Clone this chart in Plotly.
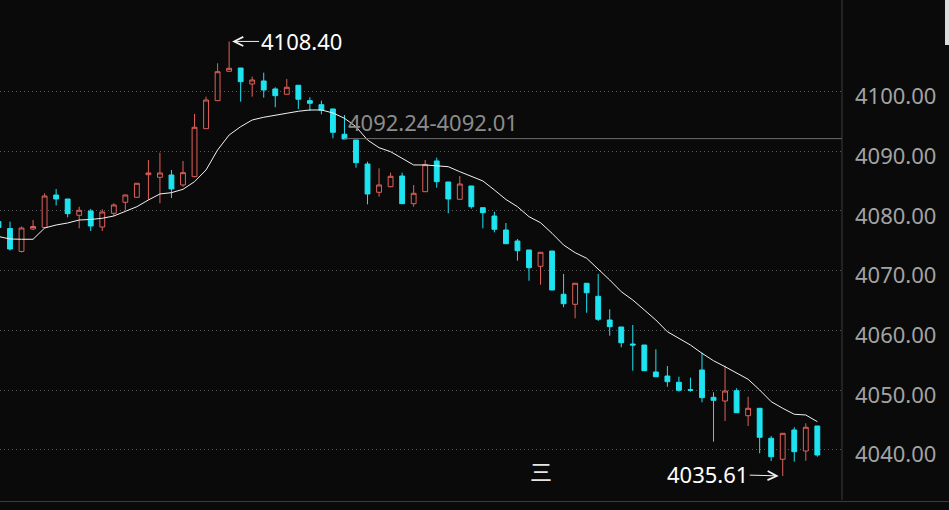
import plotly.graph_objects as go

# ---- data ----
idx = list(range(-1, 71))

opens = [4078.24, 4077.07, 4073.22, 4076.98, 4077.24, 4082.68, 4082.01, 4079.28, 4080.00, 4077.32,
         4079.61, 4081.46, 4082.29, 4086.08, 4085.64, 4086.03, 4084.36, 4085.75, 4093.79, 4098.48,
         4103.40, 4103.95, 4101.27, 4101.78, 4100.44, 4099.55, 4101.06, 4098.48, 4097.81, 4097.09,
         4092.85, 4091.89, 4087.87, 4083.13, 4084.07, 4085.86, 4081.22, 4083.23, 4088.38, 4084.86,
         4081.96, 4084.19, 4080.55, 4079.16, 4076.82, 4074.97, 4073.47, 4070.74, 4073.30, 4066.05,
         4064.37, 4067.89, 4065.71, 4061.74, 4060.57, 4057.72, 4057.55, 4053.03, 4052.36, 4051.31,
         4050.07, 4053.37, 4048.79, 4048.17, 4049.90, 4045.71, 4046.95, 4041.93, 4038.41, 4043.32,
         4039.80, 4043.99]

highs = [4078.66, 4078.21, 4077.40, 4078.49, 4082.96, 4083.69, 4082.01, 4080.72, 4080.34, 4080.28,
         4081.29, 4082.76, 4084.69, 4088.54, 4089.77, 4086.87, 4088.38, 4096.25, 4099.15, 4104.74,
         4108.40, 4103.95, 4102.50, 4103.17, 4100.72, 4102.11, 4101.06, 4099.05, 4098.48, 4097.09,
         4096.08, 4091.89, 4088.26, 4087.15, 4086.42, 4086.42, 4084.36, 4088.54, 4088.93, 4084.86,
         4085.86, 4084.19, 4080.55, 4079.88, 4077.99, 4075.31, 4073.47, 4073.08, 4073.30, 4069.45,
         4067.89, 4067.89, 4069.45, 4063.53, 4060.57, 4060.90, 4057.55, 4056.83, 4054.04, 4052.24,
         4052.08, 4056.26, 4049.63, 4054.09, 4050.30, 4048.89, 4046.95, 4042.31, 4042.76, 4043.77,
         4044.44, 4043.99]

lows = [4076.98, 4073.38, 4073.05, 4076.82, 4077.07, 4080.92, 4078.94, 4077.10, 4076.65, 4076.65,
        4079.16, 4080.17, 4082.26, 4081.84, 4081.29, 4082.18, 4084.07, 4085.64, 4093.79, 4098.48,
        4103.40, 4098.31, 4099.15, 4098.98, 4097.37, 4099.55, 4097.09, 4096.75, 4096.20, 4092.18,
        4092.06, 4087.25, 4081.12, 4082.40, 4083.97, 4081.17, 4080.72, 4083.18, 4083.90, 4079.61,
        4081.93, 4080.39, 4077.10, 4076.43, 4074.47, 4071.68, 4068.32, 4067.65, 4066.70, 4063.87,
        4062.03, 4062.96, 4061.57, 4059.11, 4057.17, 4053.25, 4053.20, 4052.20, 4050.57, 4049.73,
        4049.73, 4047.96, 4041.36, 4044.82, 4046.16, 4043.99, 4039.41, 4038.12, 4035.61, 4038.01,
        4038.17, 4038.84]

closes = [4077.24, 4073.63, 4077.15, 4077.40, 4082.51, 4082.01, 4079.55, 4080.12, 4077.49, 4079.83,
          4081.01, 4082.68, 4084.64, 4086.37, 4086.37, 4083.69, 4086.42, 4094.02, 4098.59, 4103.33,
          4103.90, 4101.66, 4101.94, 4100.27, 4099.31, 4100.72, 4098.71, 4098.04, 4096.87, 4093.18,
          4092.06, 4088.09, 4082.85, 4084.36, 4085.81, 4081.22, 4082.96, 4087.76, 4084.91, 4082.01,
          4084.52, 4080.72, 4079.72, 4076.93, 4074.52, 4073.35, 4070.50, 4073.08, 4066.77, 4064.47,
          4067.89, 4066.31, 4061.86, 4060.62, 4057.94, 4057.55, 4053.25, 4052.24, 4051.41, 4049.97,
          4049.97, 4048.73, 4048.29, 4049.85, 4046.21, 4046.95, 4042.09, 4038.84, 4042.76, 4039.68,
          4043.77, 4039.13]

ma = [4075.73, 4075.31, 4075.26, 4075.26, 4077.15, 4077.65, 4077.99, 4078.49, 4078.58, 4078.78,
      4079.16, 4079.88, 4080.72, 4081.84, 4082.85, 4083.07, 4083.63, 4084.91, 4086.87, 4090.22,
      4092.73, 4094.12, 4095.24, 4095.70, 4096.08, 4096.37, 4096.70, 4096.92, 4096.92, 4096.42,
      4095.53, 4094.12, 4091.89, 4090.60, 4089.93, 4088.83, 4087.71, 4087.71, 4087.54, 4087.42,
      4086.58, 4085.86, 4085.03, 4083.52, 4081.93, 4080.72, 4079.05, 4078.04, 4076.26, 4074.30,
      4073.02, 4072.08, 4070.28, 4068.44, 4066.48, 4065.09, 4063.42, 4061.74, 4059.78, 4058.68,
      4057.55, 4056.16, 4054.92, 4053.92, 4052.81, 4051.81, 4050.02, 4048.06, 4046.95, 4045.95,
      4045.83, 4044.71]

tick_vals = [4040, 4050, 4060, 4070, 4080, 4090, 4100]
tick_text = ["4040.00", "4050.00", "4060.00", "4070.00", "4080.00", "4090.00", "4100.00"]

high_label = "4108.40"
low_label = "4035.61"
hline_label = "4092.24-4092.01"
hline_value = 4092.12
hline_start = 29
high_idx = 19
low_idx = 67

# ---- styling ----
BG = "#0a0a0a"
RED = "#e0605a"
CYAN = "#1ee3f0"
FONT = "Noto Sans"

fig = go.Figure()

fig.add_trace(go.Candlestick(
    x=idx, open=opens, high=highs, low=lows, close=closes,
    increasing=dict(line=dict(color=RED, width=1), fillcolor=BG),
    decreasing=dict(line=dict(color=CYAN, width=1), fillcolor=CYAN),
    whiskerwidth=0, hoverinfo="skip", showlegend=False,
))

fig.add_trace(go.Scatter(
    x=idx, y=ma, mode="lines", line=dict(color="#f2f2f2", width=1),
    hoverinfo="skip", showlegend=False,
))

# horizontal drawn line
fig.add_shape(type="line", xref="x", yref="y", x0=hline_start, x1=72.14,
              y0=hline_value, y1=hline_value, line=dict(color="#6e6e6e", width=1))
fig.add_annotation(x=hline_start + 0.1, y=hline_value, xref="x", yref="y",
                   text=hline_label, showarrow=False, xanchor="left", yanchor="bottom",
                   yshift=0, font=dict(family=FONT, size=22, color="#8c8c8c"))

# high / low markers
fig.add_annotation(x=high_idx, y=4108.40, xref="x", yref="y", text=high_label,
                   showarrow=True, ax=72, ay=0, arrowhead=5, arrowsize=1.8, arrowwidth=1,
                   arrowcolor="#f0f0f0", standoff=3,
                   font=dict(family=FONT, size=22, color="#ffffff"))
fig.add_annotation(x=low_idx, y=4035.61, xref="x", yref="y", text=low_label,
                   showarrow=True, ax=-75, ay=-2, arrowhead=5, arrowsize=1.8, arrowwidth=1,
                   arrowcolor="#f0f0f0", standoff=4,
                   font=dict(family=FONT, size=22, color="#ffffff"))

# frame lines
fig.add_shape(type="line", xref="paper", yref="paper", x0=1, x1=1, y0=0, y1=1,
              line=dict(color="#3a3a3a", width=1))
fig.add_shape(type="line", xref="paper", yref="paper", x0=0, x1=1.13, y0=-0.003, y1=-0.003,
              line=dict(color="#3c3c3c", width=1))
fig.add_shape(type="rect", xref="paper", yref="paper", x0=945 / 842, x1=949 / 842, y0=0.91, y1=1.0,
              line=dict(width=0), fillcolor="#dcdcdc")

# toolbar glyph at the bottom
fig.add_annotation(x=541 / 842, y=1 - 488 / 500, xref="paper", yref="paper", text="三",
                   showarrow=False, font=dict(family="Noto Sans CJK SC", size=22, color="#e6e6e6"))

fig.update_layout(
    width=949, height=510,
    margin=dict(l=0, r=107, t=0, b=10),
    paper_bgcolor=BG, plot_bgcolor=BG,
    boxgap=0.4,
    xaxis=dict(range=[-0.867, 72.14], showgrid=False, zeroline=False, showticklabels=False,
               rangeslider=dict(visible=False), fixedrange=True),
    yaxis=dict(range=[4031.59, 4115.34], side="right", tickvals=tick_vals, ticktext=tick_text,
               showgrid=True, gridcolor="#5a5a5a", griddash="1px,3px", gridwidth=1,
               zeroline=False, ticks="", ticklabelstandoff=12, ticklabelshift=5,
               fixedrange=True,
               tickfont=dict(family=FONT, size=22, color="#a3a3a3")),
    hovermode=False,
)

fig.write_html("out.html",
               config={"displayModeBar": False, "staticPlot": True},
               post_script="document.body.style.margin='0';document.body.style.overflow='hidden';"
                           "document.body.style.background='#0a0a0a';")
